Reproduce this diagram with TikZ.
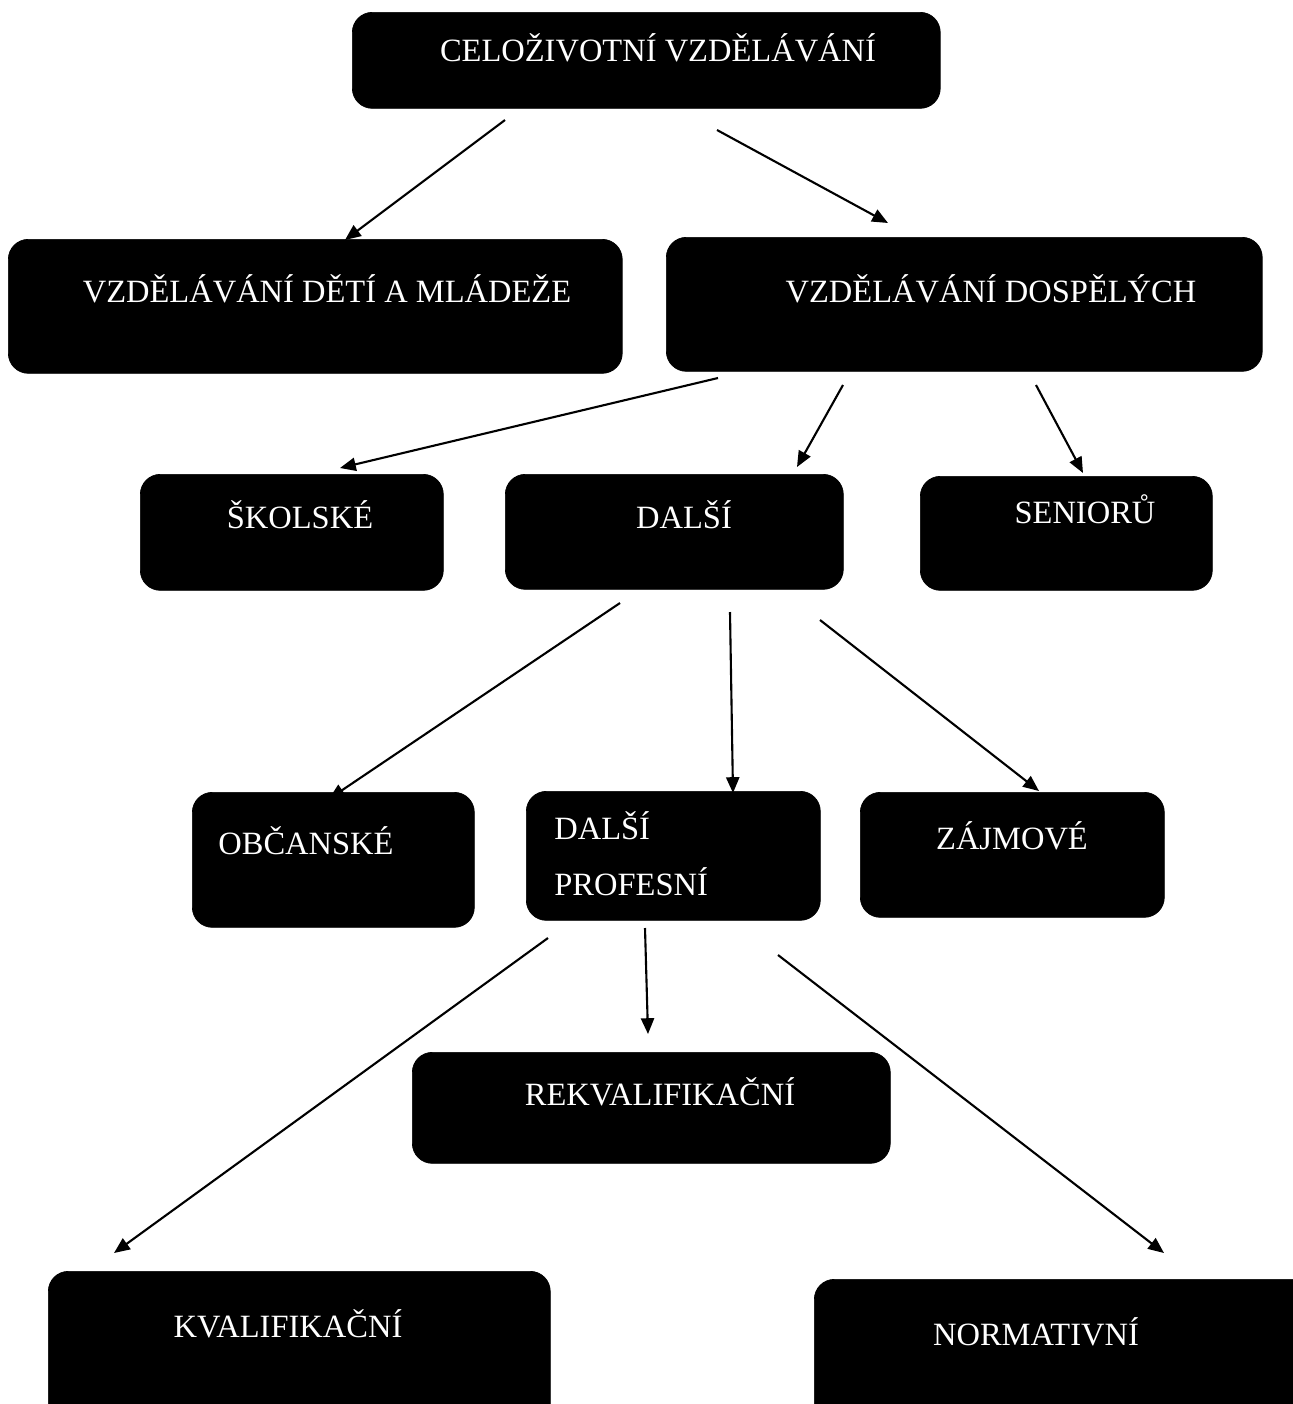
\documentclass[tikz,border=0pt]{standalone}
\usepackage{fontspec}
\setmainfont{Liberation Serif}
\usetikzlibrary{arrows.meta}
\tikzset{
  box/.style={fill=black, draw=black, rounded corners=0.4cm, inner sep=0pt, anchor=north west},
  lbl/.style={text=white, inner sep=0pt, font=\fontsize{18.5}{22}\selectfont},
  arr/.style={line width=1.2pt, -{Triangle[length=9pt,width=7.5pt]}}
}
\begin{document}
\begin{tikzpicture}[x=0.02cm,y=-0.02cm]
\clip (0,0) rectangle (1293,1404);
\fill[white] (0,0) rectangle (1293,1404);
% boxes
\node[box, minimum width=11.76cm, minimum height=1.92cm] (b1) at (352,12) {};
\node[box, minimum width=12.28cm, minimum height=2.68cm] (b2) at (8,239) {};
\node[box, minimum width=11.92cm, minimum height=2.68cm] (b3) at (666,237) {};
\node[box, minimum width=6.06cm, minimum height=2.32cm] (b4) at (140,474) {};
\node[box, minimum width=6.76cm, minimum height=2.30cm] (b5) at (505,474) {};
\node[box, minimum width=5.84cm, minimum height=2.28cm] (b6) at (920,476) {};
\node[box, minimum width=5.64cm, minimum height=2.70cm] (b7) at (192,792) {};
\node[box, minimum width=5.88cm, minimum height=2.58cm] (b8) at (526,791) {};
\node[box, minimum width=6.08cm, minimum height=2.50cm] (b9) at (860,792) {};
\node[box, minimum width=9.56cm, minimum height=2.22cm] (b10) at (412,1052) {};
\node[box, minimum width=10.04cm, minimum height=3.2cm] (b11) at (48,1271) {};
\node[box, minimum width=10.4cm, minimum height=3.2cm] (b12) at (814,1279) {};
% labels
\node[lbl, anchor=base] (t1) at (658,61) {CELOŽIVOTNÍ VZDĚLÁVÁNÍ};
\node[lbl, anchor=base] (t2) at (327,302) {VZDĚLÁVÁNÍ DĚTÍ A MLÁDEŽE};
\node[lbl, anchor=base] (t3) at (991,302) {VZDĚLÁVÁNÍ DOSPĚLÝCH};
\node[lbl, anchor=base] (t4) at (300,528) {ŠKOLSKÉ};
\node[lbl, anchor=base] (t5) at (684,528) {DALŠÍ};
\node[lbl, anchor=base] (t6) at (1085,523) {SENIORŮ};
\node[lbl, anchor=base] (t7) at (306,854) {OBČANSKÉ};
\node[lbl, anchor=base west] (t8a) at (554,839) {DALŠÍ};
\node[lbl, anchor=base west] (t8b) at (554,895) {PROFESNÍ};
\node[lbl, anchor=base] (t9) at (1012,849) {ZÁJMOVÉ};
\node[lbl, anchor=base] (t10) at (660,1105) {REKVALIFIKAČNÍ};
\node[lbl, anchor=base] (t11) at (288,1337) {KVALIFIKAČNÍ};
\node[lbl, anchor=base] (t12) at (1036,1345) {NORMATIVNÍ};
% arrow end points
\coordinate (a1s) at (505,120);  \coordinate (a1e) at (345,240);
\coordinate (a2s) at (717,130);  \coordinate (a2e) at (888,223);
\coordinate (a3s) at (718,378);  \coordinate (a3e) at (340,468);
\coordinate (a4s) at (843,385);  \coordinate (a4e) at (797,467);
\coordinate (a5s) at (1036,385); \coordinate (a5e) at (1083,473);
\coordinate (a6s) at (620,603);  \coordinate (a6e) at (329,799);
\coordinate (a7s) at (730,612);  \coordinate (a7e) at (733,793);
\coordinate (a8s) at (820,620);  \coordinate (a8e) at (1039,791);
\coordinate (a9s) at (548,938);  \coordinate (a9e) at (114,1253);
\coordinate (a10s) at (645,928); \coordinate (a10e) at (648,1034);
\coordinate (a11s) at (778,955); \coordinate (a11e) at (1164,1253);
\foreach \i in {1,...,11} \draw[arr] (a\i s) -- (a\i e);
\end{tikzpicture}
\end{document}
